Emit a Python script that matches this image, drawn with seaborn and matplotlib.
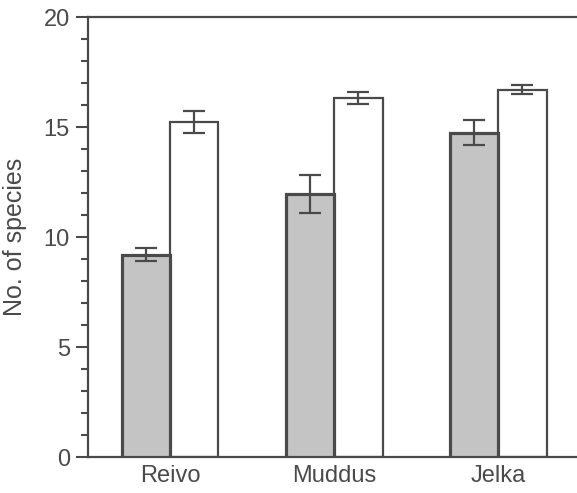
import matplotlib
matplotlib.use("Agg")
import matplotlib.pyplot as plt
from matplotlib.ticker import MultipleLocator
import seaborn as sns
import pandas as pd

# values
sites = ["Reivo", "Muddus", "Jelka"]
groups = ["a", "b"]
mean_a = [9.2, 11.95, 14.75]
err_a = [0.3, 0.85, 0.55]
mean_b = [15.25, 16.3, 16.7]
err_b = [0.5, 0.27, 0.2]

df = pd.DataFrame({
    "site": sites * 2,
    "group": [groups[0]] * 3 + [groups[1]] * 3,
    "species": mean_a + mean_b,
})

sns.set_style("ticks")
plt.rcParams["font.family"] = ["Liberation Sans", "DejaVu Sans"]
ink = "#4a4a4a"

fig = plt.figure(figsize=(5.77, 4.93), dpi=100)
ax = fig.add_axes([0.1525, 0.073, 0.8475, 0.8925])

sns.barplot(data=df, x="site", y="species", hue="group", order=sites,
            hue_order=groups, palette=["#c4c4c4", "white"], width=0.59,
            errorbar=None, edgecolor=ink, linewidth=1.6, legend=False, ax=ax)

# error bars at the bar centres (interleaved: a, b per site)
bars = sorted([p for p in ax.patches if p.get_height() > 0],
              key=lambda p: p.get_x())
errs = [e for pair in zip(err_a, err_b) for e in pair]
for p, e in zip(bars, errs):
    ax.errorbar(p.get_x() + p.get_width() / 2, p.get_height(), yerr=e,
                fmt="none", ecolor=ink, elinewidth=1.6, capsize=8,
                capthick=1.6, zorder=5)

# grey bars have a heavier outline, drawn on top of the white ones
for p in bars[::2]:
    p.set_linewidth(2.3)
    p.set_zorder(3)

ax.set_xlim(-0.5, 2.48)
ax.set_ylim(0, 20)
ax.yaxis.set_major_locator(MultipleLocator(5))
ax.yaxis.set_minor_locator(MultipleLocator(1))
ax.tick_params(axis="y", which="major", length=9, width=1.5, colors=ink,
               labelsize=17, pad=4)
ax.tick_params(axis="y", which="minor", length=5, width=1.5, colors=ink)
ax.tick_params(axis="x", length=0, colors=ink, labelsize=17, pad=6)
ax.set_xlabel("")
ax.set_ylabel("No. of species", fontsize=18, color=ink, labelpad=12)

for side in ["left", "top", "bottom"]:
    ax.spines[side].set_color(ink)
    ax.spines[side].set_linewidth(1.6)
ax.spines["right"].set_visible(False)

fig.savefig("out.png", dpi=100)
